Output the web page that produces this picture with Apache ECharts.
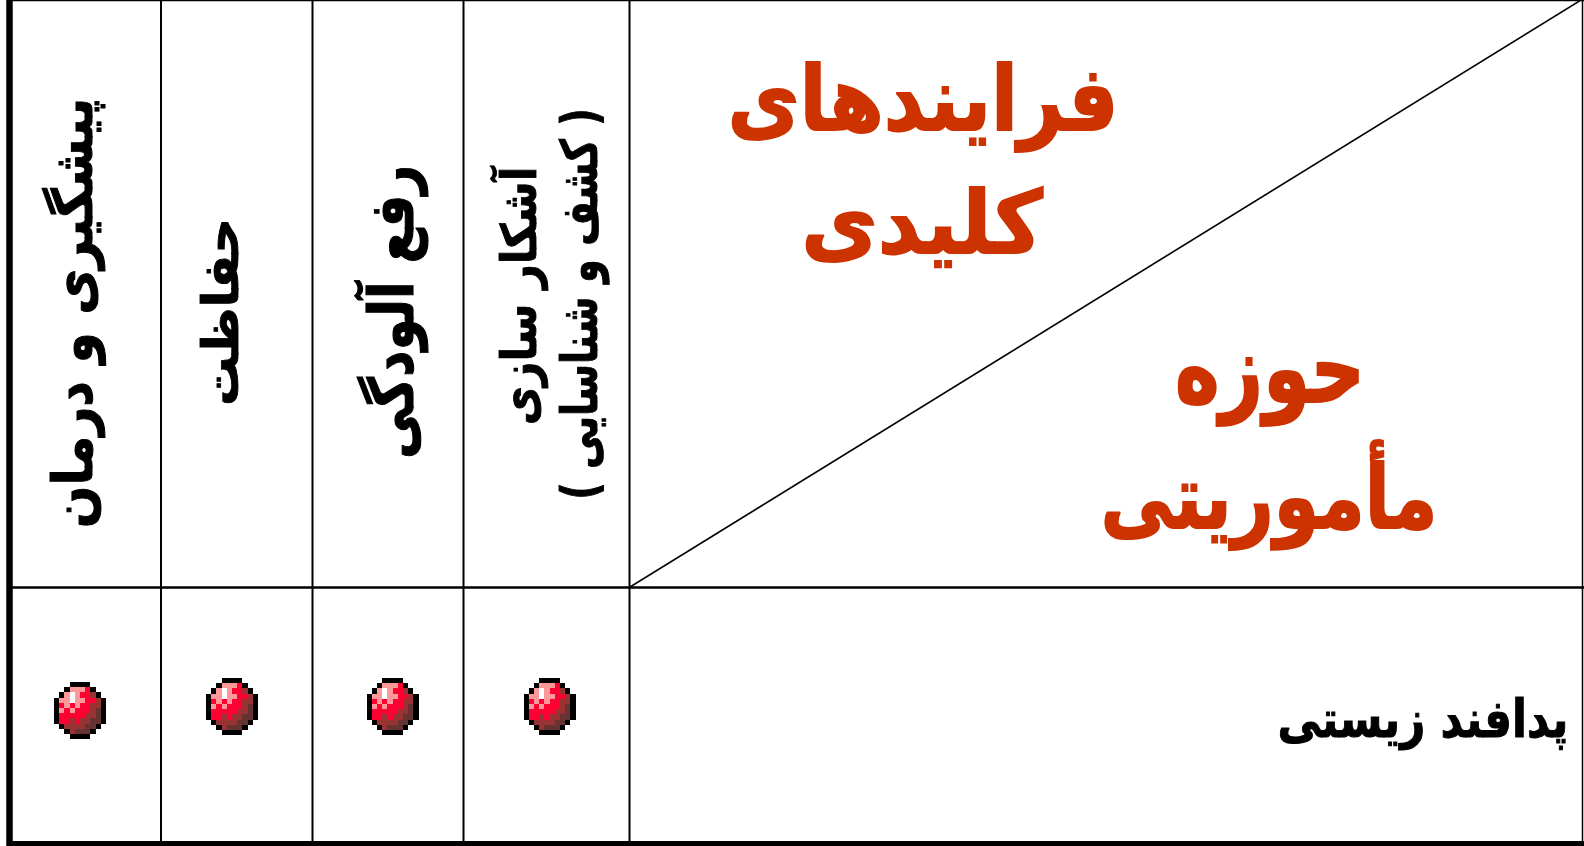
<!DOCTYPE html>
<html lang="fa">
<head>
<meta charset="utf-8">
<title>حوزه مأموریتی</title>
<script src="https://cdn.jsdelivr.net/npm/echarts@6/dist/echarts.min.js"></script>
<style>
	html, body { margin: 0; padding: 0; background: #fff; }
	#chart { width: 1584px; height: 846px; }
</style>
</head>
<body>
<div id="chart"></div>
<script>
// data
const processes = ['پیشگیری و درمان', 'حفاظت', 'رفع آلودگی', 'آشکار سازی', '\u200F( کشف و شناسایی )\u200F'];
const headers = ['فرایندهای', 'کلیدی', 'حوزه', 'مأموریتی'];
const missions = ['پدافند زیستی'];
const hasMark = [1, 1, 1, 1];

// layout, in page pixels: x, y, stretch along the text, stretch across it
const lineRows = [
	[9.5, 0, 9.5, 846, 6.5],
	[161, 0, 161, 846, 2],
	[312.5, 0, 312.5, 846, 2],
	[463.5, 0, 463.5, 846, 2],
	[629.5, 0, 629.5, 846, 2],
	[1582.5, 0, 1582.5, 846, 1.5],
	[7, 0.5, 1584, 0.5, 1.5],
	[7, 587.5, 1584, 587.5, 2.5],
	[7, 843.5, 1584, 843.5, 5],
	[630, 587, 1581, 0, 1.5],
];
const processPos = [
	[78, 313, 1.14, 1.25],
	[225, 312, 1.12, 1.13],
	[397, 312, 1.17, 1.4],
	[523, 296, 0.97, 1.1],
	[584, 304, 0.87, 1.15],
];
const headerPos = [
	[923, 107, 1.094, 1.24],
	[922, 230, 1.16, 1.21],
	[1270, 377, 1.05, 1.35],
	[1269, 505, 1.015, 1.23],
];
const missionPos = [[1423, 723, 1.09, 1.3]];
const markPos = [[80, 710.5], [232, 706.5], [392.5, 706.5], [549.5, 706.5]];

// sprite for the red ball
const palette = { K: '#000000', P: '#ff9999', W: '#ffffff', R: '#ff0033', M: '#993333', D: '#663333' };
const ball = [
	'...KKKK...',
	'..KPPPRK..',
	'.KPWPRRMK.',
	'KPPWPPRRMK',
	'KRPRPRRMMK',
	'KPRPRRRMDK',
	'KRRRRRMMDK',
	'KRRMRMMDDK',
	'.KMMMMDDK.',
	'..KMDDDK..',
	'...KKKK...',
];
const cellW = 5.2;
const cellH = 5.2;

const chart = echarts.init(document.getElementById('chart'), null, { renderer: 'canvas' });

function textItem(texts, size, color, rotation, weight) {
	return function (params, api) {
		const p = api.coord([api.value(0), api.value(1)]);
		return {
			type: 'text',
			x: p[0],
			y: p[1],
			rotation: rotation,
			scaleX: api.value(2),
			scaleY: api.value(3),
			style: {
				text: texts[params.dataIndex],
				fill: color,
				stroke: color,
				lineWidth: weight,
				font: 'bold ' + size + 'px "DejaVu Sans"',
				textAlign: 'center',
				textVerticalAlign: 'middle',
			},
		};
	};
}

chart.setOption({
	animation: false,
	backgroundColor: '#fff',
	grid: { left: 0, right: 0, top: 0, bottom: 0 },
	xAxis: { type: 'value', min: 0, max: 1584, show: false },
	yAxis: { type: 'value', min: 0, max: 846, inverse: true, show: false },
	series: [
		{
			name: 'lines',
			type: 'custom',
			clip: false,
			data: lineRows,
			renderItem(params, api) {
				const a = api.coord([api.value(0), api.value(1)]);
				const b = api.coord([api.value(2), api.value(3)]);
				return {
					type: 'line',
					shape: { x1: a[0], y1: a[1], x2: b[0], y2: b[1] },
					style: { stroke: '#000', lineWidth: api.value(4) },
				};
			},
		},
		{
			name: 'marks',
			type: 'custom',
			clip: false,
			data: markPos.filter((p, i) => hasMark[i]),
			renderItem(params, api) {
				const c = api.coord([api.value(0), api.value(1)]);
				const left = c[0] - (cellW * ball[0].length) / 2;
				const top = c[1] - (cellH * ball.length) / 2;
				const children = [];
				ball.forEach((row, r) => {
					row.split('').forEach((k, col) => {
						if (k === '.') return;
						const x0 = Math.round(left + col * cellW);
						const y0 = Math.round(top + r * cellH);
						children.push({
							type: 'rect',
							shape: {
								x: x0,
								y: y0,
								width: Math.round(left + (col + 1) * cellW) - x0,
								height: Math.round(top + (r + 1) * cellH) - y0,
							},
							style: { fill: palette[k] },
						});
					});
				});
				return { type: 'group', children: children };
			},
		},
		{
			name: 'processes',
			type: 'custom',
			clip: false,
			data: processPos,
			renderItem: textItem(processes, 44, '#000', Math.PI / 2, 0.8),
		},
		{
			name: 'headers',
			type: 'custom',
			clip: false,
			data: headerPos,
			renderItem: textItem(headers, 72, '#cc3300', 0, 1.5),
		},
		{
			name: 'missions',
			type: 'custom',
			clip: false,
			data: missionPos,
			renderItem: textItem(missions, 40, '#000', 0, 0.8),
		},
	],
});
</script>
</body>
</html>
